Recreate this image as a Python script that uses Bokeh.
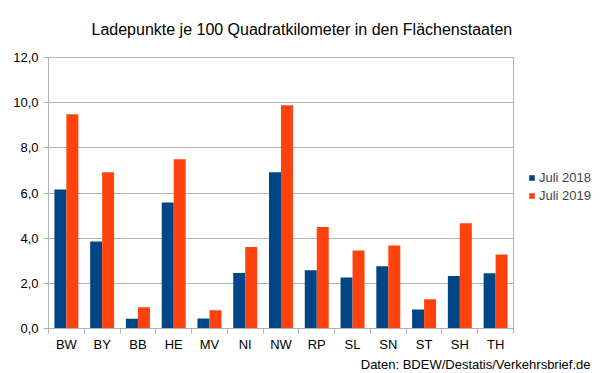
from bokeh.plotting import figure
from bokeh.models import (ColumnDataSource, FixedTicker, CustomJSTickFormatter,
                          Title, Range1d)
from bokeh.transform import dodge
from bokeh.embed import file_html
from bokeh.resources import INLINE

states = ["BW", "BY", "BB", "HE", "MV", "NI", "NW", "RP", "SL", "SN", "ST", "SH", "TH"]
juli_2018 = [6.16, 3.85, 0.43, 5.58, 0.44, 2.46, 6.92, 2.58, 2.26, 2.76, 0.84, 2.32, 2.45]
juli_2019 = [9.49, 6.92, 0.94, 7.50, 0.81, 3.61, 9.89, 4.49, 3.45, 3.68, 1.30, 4.66, 3.28]
y_ticks = [0, 2, 4, 6, 8, 10, 12]
title_text = "Ladepunkte je 100 Quadratkilometer in den Flächenstaaten"
source_text = "Daten: BDEW/Destatis/Verkehrsbrief.de"

FONT = "Liberation Sans"
GRAY = "#b3b3b3"
BLUE = "#004586"
ORANGE = "#ff420e"

idx = list(range(len(states)))
src = ColumnDataSource(dict(x=idx, a=juli_2018, b=juli_2019))

p = figure(frame_width=465, frame_height=271, output_backend="svg", toolbar_location=None,
           title=None, x_range=Range1d(-0.5, len(states) - 0.5), y_range=Range1d(0, 12),
           min_border_left=48, min_border_right=91, min_border_top=57, min_border_bottom=45)
p.background_fill_color = "white"
p.border_fill_color = "white"
p.outline_line_color = GRAY

bw = 0.335
p.vbar(x=dodge("x", -bw / 2), top="a", width=bw, source=src, fill_color=BLUE,
       line_color=None, legend_label="Juli 2018")
p.vbar(x=dodge("x", bw / 2), top="b", width=bw, source=src, fill_color=ORANGE,
       line_color=None, legend_label="Juli 2019")

# x axis
xa = p.xaxis[0]
xa.ticker = FixedTicker(ticks=idx, minor_ticks=[i - 0.5 for i in range(len(states) + 1)])
xa.major_label_overrides = {i: s for i, s in enumerate(states)}
xa.major_tick_out = 0
xa.major_tick_in = 0
xa.minor_tick_out = 5
xa.minor_tick_in = 0
xa.minor_tick_line_color = GRAY
xa.axis_line_color = GRAY
xa.major_label_standoff = 3
xa.major_label_text_font = FONT
xa.major_label_text_font_size = "13px"
xa.major_label_text_color = "black"

# y axis
ya = p.yaxis[0]
ya.ticker = FixedTicker(ticks=y_ticks)
ya.formatter = CustomJSTickFormatter(code="return tick.toFixed(1).replace('.', ',');")
ya.major_tick_out = 5
ya.major_tick_in = 0
ya.minor_tick_line_color = None
ya.major_tick_line_color = GRAY
ya.axis_line_color = GRAY
ya.major_label_standoff = 5
ya.major_label_text_font = FONT
ya.major_label_text_font_size = "13px"
ya.major_label_text_color = "black"

p.xgrid.grid_line_color = None
p.ygrid.grid_line_color = GRAY

# legend moved to the right side panel
lg = p.legend[0]
p.center.remove(lg)
lg.location = "center_left"
lg.border_line_color = None
lg.background_fill_alpha = 0
lg.padding = 0
lg.margin = 15
lg.spacing = 0
lg.glyph_width = 7
lg.glyph_height = 7
lg.label_height = 18
lg.label_standoff = 4
lg.label_text_font = FONT
lg.label_text_font_size = "13px"
lg.title = " "
lg.title_location = "below"
lg.title_standoff = 0
lg.title_text_font_size = "11px"
p.add_layout(lg, "right")

p.add_layout(Title(text=source_text, align="right", offset=-77, text_font=FONT,
                   text_font_size="13px", text_font_style="normal", text_color="black",
                   standoff=0), "below")
p.add_layout(Title(text=title_text, align="left", offset=43, text_font=FONT,
                   text_font_size="16px", text_font_style="normal", text_color="black",
                   vertical_align="middle", standoff=38), "above")

open("out.html", "w").write(file_html(p, INLINE))
